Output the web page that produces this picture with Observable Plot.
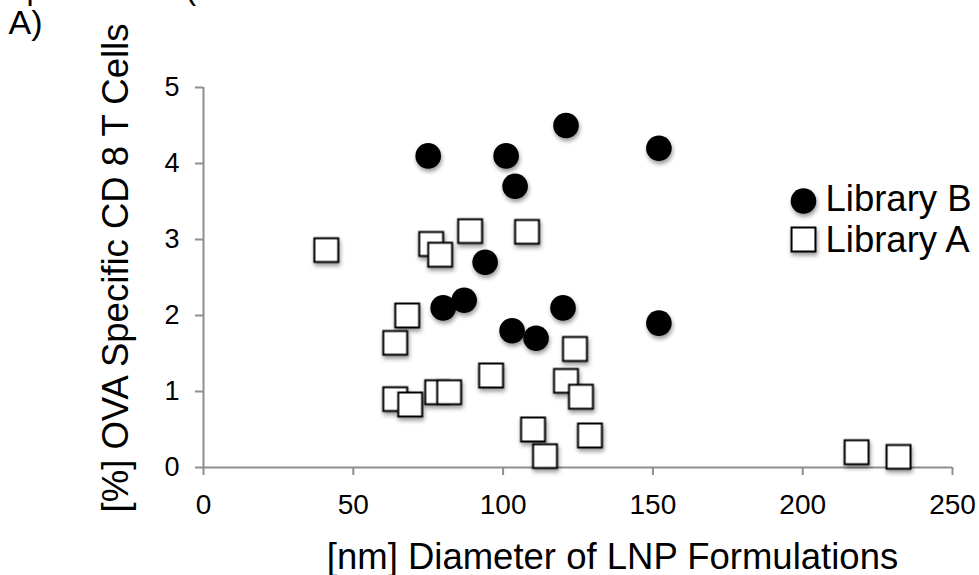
<!DOCTYPE html>
<html>
<head>
<meta charset="utf-8">
<script src="https://cdn.jsdelivr.net/npm/d3@7"></script>
<script src="https://cdn.jsdelivr.net/npm/@observablehq/plot@0.6"></script>
<style>
  html, body { margin: 0; padding: 0; background: white; overflow: hidden; }
</style>
</head>
<body>
<div id="chart"></div>
<script>
// ---- data ----
const seriesNames = ["Library B", "Library A"];

const libBx = [75, 101, 104, 94, 80, 87, 103, 111, 121, 152, 120, 152];
const libBy = [4.1, 4.1, 3.7, 2.7, 2.1, 2.2, 1.8, 1.7, 4.5, 4.2, 2.1, 1.9];

const libAx = [41, 76, 79, 89, 108, 68, 64, 96, 64, 69, 78, 82, 110, 114, 124, 121, 126, 129, 218, 232];
const libAy = [2.86, 2.94, 2.80, 3.11, 3.10, 2.00, 1.64, 1.21, 0.90, 0.83, 0.99, 0.99, 0.50, 0.15, 1.56, 1.14, 0.93, 0.42, 0.20, 0.14];

const xTicks = [0, 50, 100, 150, 200, 250];
const yTicks = [0, 1, 2, 3, 4, 5];

const xTitle = "[nm] Diameter of LNP Formulations";
const yTitle = "[%] OVA Specific CD 8 T Cells";
const panelLabel = "A)";
const topFragments = ["p", "("];

// ---- build tables ----
const libB = libBx.map((x, i) => ({x, y: libBy[i], series: seriesNames[0]}));
const libA = libAx.map((x, i) => ({x, y: libAy[i], series: seriesNames[1]}));

const axisColor = "#8e8e8e";
const font = "'Liberation Sans', Arial, Helvetica, sans-serif";

const plot = Plot.plot({
  width: 979,
  height: 575,
  marginLeft: 203,
  marginRight: 27,
  marginTop: 87,
  marginBottom: 108,
  style: {fontFamily: font, background: "white", color: "black"},
  x: {domain: [0, 250]},
  y: {domain: [0, 5]},
  marks: [
    Plot.ruleY([0], {stroke: axisColor, strokeWidth: 2}),
    Plot.ruleX([0], {stroke: axisColor, strokeWidth: 2}),
    Plot.axisX({ticks: xTicks, tickSize: 8, tickPadding: 19, fontSize: 28,
      stroke: axisColor, strokeWidth: 2, fill: "black", label: null, tickFormat: d => String(d)}),
    Plot.axisY({ticks: yTicks, tickSize: 8, tickPadding: 16, fontSize: 27,
      stroke: axisColor, strokeWidth: 2, fill: "black", label: null, tickFormat: d => String(d)}),
    Plot.dot(libA, {x: "x", y: "y", symbol: "square", r: 13.5, fill: "white", stroke: "black", strokeWidth: 2}),
    Plot.dot(libB, {x: "x", y: "y", r: 12.8, fill: "black", stroke: "none"}),
    // legend
    Plot.dot([seriesNames[0]], {frameAnchor: "top-left", dx: 600, dy: 113.5, r: 12.8, fill: "black", stroke: "none"}),
    Plot.dot([seriesNames[1]], {frameAnchor: "top-left", dx: 600, dy: 152, symbol: "square", r: 13.5, fill: "white", stroke: "black", strokeWidth: 2}),
    Plot.text([seriesNames[0]], {text: d => d, frameAnchor: "top-left", dx: 622, dy: 123.7,
      textAnchor: "start", lineAnchor: "bottom", fontSize: 36.5, fill: "black"}),
    Plot.text([seriesNames[1]], {text: d => d, frameAnchor: "top-left", dx: 622, dy: 164.7,
      textAnchor: "start", lineAnchor: "bottom", fontSize: 36.5, fill: "black"}),
    // axis titles
    Plot.text([yTitle], {text: d => d, frameAnchor: "left", rotate: -90, dx: -76, dy: -9.5,
      textAnchor: "middle", lineAnchor: "bottom", fontSize: 36.5, fill: "black"}),
    Plot.text([xTitle], {text: d => d, frameAnchor: "bottom", dx: 34.5, dy: 101,
      textAnchor: "middle", lineAnchor: "bottom", fontSize: 36.5, fill: "black"}),
    // panel label and cut-off text from the line above (cut off in the reference too)
    Plot.text([panelLabel], {text: d => d, frameAnchor: "top-left", dx: -195, dy: -54,
      textAnchor: "start", lineAnchor: "bottom", fontSize: 34, fill: "black"}),
    Plot.text([topFragments[0]], {text: d => d, frameAnchor: "top-left", dx: -177, dy: -89,
      textAnchor: "start", lineAnchor: "bottom", fontSize: 32, fill: "black"}),
    Plot.text([topFragments[1]], {text: d => d, frameAnchor: "top-left", dx: -18, dy: -89,
      textAnchor: "start", lineAnchor: "bottom", fontSize: 32, fill: "black"})
  ]
});

// make sure tick labels get the intended size
plot.querySelectorAll('g[aria-label="x-axis tick label"]').forEach(g => {
  g.setAttribute("font-size", "28"); g.style.fontSize = "28px";
});
plot.querySelectorAll('g[aria-label="y-axis tick label"]').forEach(g => {
  g.setAttribute("font-size", "27"); g.style.fontSize = "27px";
});

// soft drop shadow on markers, as in the reference
plot.querySelectorAll('g[aria-label="dot"]').forEach(g => {
  g.style.filter = "drop-shadow(1px 3px 2px rgba(0,0,0,0.4))";
});

document.getElementById("chart").appendChild(plot);
</script>
</body>
</html>
